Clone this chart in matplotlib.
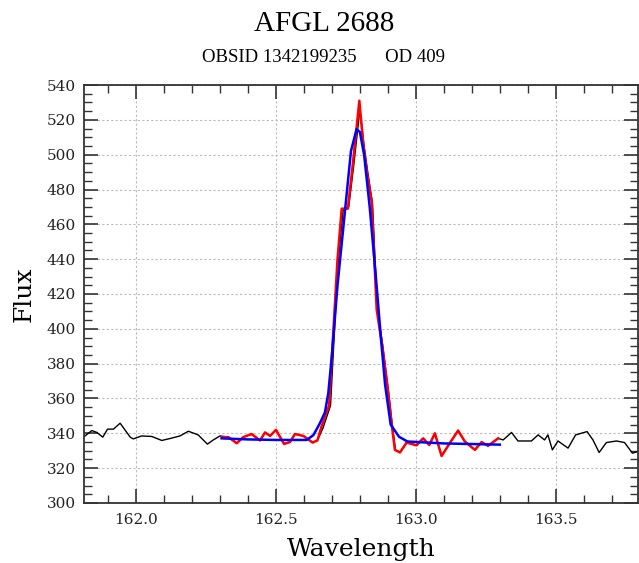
import matplotlib.pyplot as plt
import numpy as np
from matplotlib.ticker import MultipleLocator

plt.rcParams['font.family'] = ['DejaVu Serif']

# full spectrum (black)
wl_data = [161.812, 161.842, 161.860, 161.881, 161.898, 161.919, 161.943, 161.979,
           161.990, 162.020, 162.056, 162.092, 162.121, 162.157, 162.187, 162.222,
           162.255, 162.276, 162.300, 162.330, 162.360, 162.383, 162.413, 162.443,
           162.461, 162.479, 162.500, 162.529, 162.550, 162.568, 162.598, 162.631,
           162.648, 162.668, 162.695, 162.722, 162.740, 162.760, 162.778, 162.800,
           162.815, 162.828, 162.845, 162.862, 162.882, 162.902, 162.915, 162.927,
           162.943, 162.967, 163.002, 163.026, 163.048, 163.068, 163.092, 163.121,
           163.151, 163.175, 163.211, 163.235, 163.258, 163.294, 163.312, 163.342,
           163.365, 163.413, 163.437, 163.460, 163.472, 163.488, 163.508, 163.544,
           163.571, 163.612, 163.633, 163.655, 163.681, 163.717, 163.746, 163.774,
           163.794]
flux_data = [337.8, 341.6, 340.5, 337.8, 342.4, 342.4, 345.8, 337.8,
             336.8, 338.5, 338.2, 335.9, 337.0, 338.5, 341.2, 339.1,
             333.8, 336.2, 338.5, 337.8, 334.3, 337.8, 339.6, 335.9,
             340.5, 338.5, 342.0, 333.9, 335.0, 339.6, 338.5, 334.7,
             335.9, 343.0, 356.0, 438.0, 468.0, 470.0, 494.0, 526.0,
             505.0, 490.0, 472.0, 412.0, 390.0, 364.0, 346.0, 330.5,
             329.0, 334.7, 333.1, 337.1, 333.3, 340.0, 327.0, 334.3,
             341.6, 335.3, 330.5, 335.0, 332.8, 337.1, 336.2, 340.5,
             335.6, 335.6, 339.1, 336.2, 339.1, 330.5, 335.6, 331.5,
             339.1, 341.0, 336.2, 329.0, 334.7, 335.6, 334.7, 328.6,
             329.6]

# line region (red)
wl_line = [162.306, 162.330, 162.360, 162.383, 162.413, 162.443, 162.461, 162.479,
           162.500, 162.529, 162.550, 162.568, 162.598, 162.631, 162.648, 162.663,
           162.690, 162.720, 162.735, 162.757, 162.775, 162.798, 162.812, 162.825,
           162.842, 162.860, 162.880, 162.900, 162.913, 162.925, 162.943, 162.967,
           163.002, 163.026, 163.048, 163.068, 163.092, 163.121, 163.151, 163.175,
           163.211, 163.235, 163.258, 163.294]
flux_line = [337.8, 337.8, 334.3, 337.8, 339.6, 335.9, 340.5, 338.5,
             342.0, 333.9, 335.0, 339.6, 338.5, 334.7, 335.9, 344.0,
             356.0, 440.0, 469.0, 469.0, 495.0, 531.0, 506.0, 490.0,
             473.0, 411.0, 390.0, 365.0, 346.0, 330.5, 329.0, 334.7,
             333.1, 337.1, 333.3, 340.0, 327.0, 334.3, 341.6, 335.3,
             330.5, 335.0, 332.8, 337.1]

# fit (blue)
wl_fit = [162.306, 162.400, 162.500, 162.610, 162.634, 162.657, 162.675, 162.687,
          162.700, 162.720, 162.745, 162.768, 162.788, 162.800, 162.815, 162.835,
          162.857, 162.875, 162.890, 162.910, 162.940, 162.970, 163.100, 163.300]
flux_fit = [337.1, 336.5, 336.2, 336.2, 339.0, 345.8, 352.0, 363.0,
            385.0, 425.0, 465.0, 502.0, 514.6, 513.0, 500.0, 470.0,
            430.0, 395.0, 368.0, 345.0, 338.0, 335.3, 334.2, 333.5]

fig = plt.figure(figsize=(6.39, 5.63), dpi=100)
ax = fig.add_axes([0.1315, 0.1066, 0.8665, 0.7424])

ax.plot(wl_data, flux_data, color='black', lw=1.0)
ax.plot(wl_line, flux_line, color='red', lw=1.8)
ax.plot(wl_fit, flux_fit, color='blue', lw=1.8)

ax.set_xlim(161.814, 163.793)
ax.set_ylim(300, 540)
ax.xaxis.set_major_locator(MultipleLocator(0.5))
ax.xaxis.set_minor_locator(MultipleLocator(0.1))
ax.yaxis.set_major_locator(MultipleLocator(20))
ax.yaxis.set_minor_locator(MultipleLocator(5))
ax.xaxis.set_major_formatter(plt.FormatStrFormatter('%.1f'))

ax.tick_params(which='both', direction='in', top=True, right=True, colors='#333333',
               labelcolor='#222222', labelsize=11)
ax.tick_params(axis='x', which='major', pad=7)
ax.tick_params(axis='y', which='major', pad=6)
ax.tick_params(which='major', length=10, width=1.2)
ax.tick_params(which='minor', length=5.5, width=1.0)
for s in ax.spines.values():
    s.set_color('#333333')
    s.set_linewidth(1.3)
ax.grid(True, which='major', color='#bbbbbb', linestyle=(0, (2, 2)), lw=0.8)

ax.set_xlabel('Wavelength', fontsize=18, labelpad=8)
ax.set_ylabel('Flux', fontsize=18, labelpad=8)

fig.text(0.507, 0.958, 'AFGL 2688', ha='center', va='center', fontsize=21,
         family='Liberation Serif')
fig.text(0.507, 0.898, 'OBSID 1342199235      OD 409', ha='center', va='center',
         fontsize=13.5, family='Liberation Serif')

fig.savefig('out.png', dpi=100)
